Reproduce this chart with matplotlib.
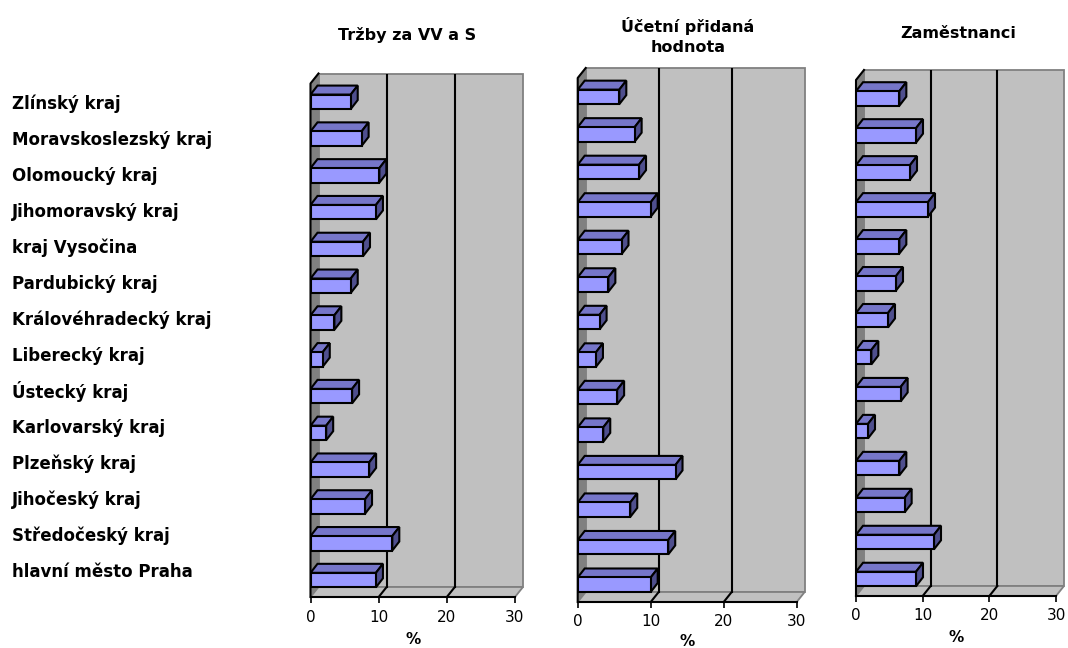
import matplotlib
matplotlib.use("Agg")
import matplotlib.pyplot as plt
from matplotlib.patches import Polygon, Rectangle

plt.rcParams['font.family'] = ['DejaVu Sans']

# regions, listed top to bottom as in the chart
regions = ["Zlínský kraj", "Moravskoslezský kraj", "Olomoucký kraj",
           "Jihomoravský kraj", "kraj Vysočina", "Pardubický kraj",
           "Královéhradecký kraj", "Liberecký kraj", "Ústecký kraj",
           "Karlovarský kraj", "Plzeňský kraj", "Jihočeský kraj",
           "Středočeský kraj", "hlavní město Praha"]

# shares in %
trzby = [5.9, 7.5, 10.1, 9.6, 7.7, 5.9, 3.5, 1.8, 6.1, 2.3, 8.6, 8.0, 12.0, 9.6]
hodnota = [5.7, 7.8, 8.4, 10.0, 6.0, 4.2, 3.0, 2.5, 5.4, 3.5, 13.4, 7.2, 12.4, 10.0]
zamestnanci = [6.5, 9.0, 8.1, 10.8, 6.5, 6.0, 4.8, 2.3, 6.7, 1.8, 6.5, 7.3, 11.7, 9.0]

titles = ["Tržby za VV a S", "Účetní přidaná\nhodnota", "Zaměstnanci"]
xticks = [0, 10, 20, 30]
XMAX = 30

W, H = 1068, 648
# panel boxes in pixels: left (value 0), right (back wall), top, bottom (front floor)
PANELS = [(310.5, 523.0, 73.5, 597.0),
          (577.7, 804.7, 68.0, 602.0),
          (856.0, 1064.0, 70.0, 596.0)]
TITLE_POS = [(407, 35), (688, 36), (958, 33)]
XLAB_Y = [639, 642, 638]
LO, HI = 0.46, 0.77          # category-space margins below / above
WALL_DX, WALL_DY = 8, 10     # px depth of walls
BAR_DX, BAR_DY = 7, 9        # px depth of bars
BAR_H = 14.5                 # px height of bar front face

FRONT = "#9999ff"
TOP = "#7676c9"
SIDE = "#4f4f8e"

fig = plt.figure(figsize=(W / 100, H / 100), dpi=100)
n = len(regions)


def panel(box, values, title, tpos, xlab_y):
    left, right, top, bottom = box
    ax = fig.add_axes([left / W, 1 - bottom / H, (right - left) / W, (bottom - top) / H])
    s = (right - left - WALL_DX) / XMAX
    pitch = (bottom - top) / (n - 1 + LO + HI)
    ddx, ddy = WALL_DX / s, WALL_DY / pitch
    bdx, bdy = BAR_DX / s, BAR_DY / pitch
    h = BAR_H / pitch
    y0, y1 = -LO, n - 1 + HI
    ax.set_xlim(0, XMAX + ddx)
    ax.set_ylim(y0, y1)

    # back wall, side wall, floor
    ax.add_patch(Rectangle((ddx, y0 + ddy), XMAX, y1 - y0 - ddy, facecolor="#c0c0c0",
                           edgecolor="#808080", lw=1.3, zorder=1, clip_on=False))
    ax.add_patch(Polygon([(0, y0), (ddx, y0 + ddy), (ddx, y1), (0, y1 - ddy)],
                         facecolor="#808080", edgecolor="#808080", lw=0.8, zorder=1, clip_on=False))
    ax.add_patch(Polygon([(0, y0), (XMAX, y0), (XMAX + ddx, y0 + ddy), (ddx, y0 + ddy)],
                         facecolor="#c0c0c0", edgecolor="#808080", lw=1.3, zorder=1, clip_on=False))
    for t in xticks[1:-1]:
        ax.plot([t + ddx, t + ddx], [y0 + ddy, y1], color="black", lw=1.5, zorder=2)
        ax.plot([t, t + ddx], [y0, y0 + ddy], color="black", lw=1.5, zorder=2, clip_on=False)
    ax.plot([0, XMAX], [y0, y0], color="black", lw=1.5, zorder=3, clip_on=False)
    ax.plot([0, 0, ddx], [y0, y1 - ddy, y1], color="black", lw=1.5, zorder=3, clip_on=False)

    # bars
    ypos = [n - 1 - k for k in range(n)]
    ax.barh(ypos, values, height=h, color=FRONT, edgecolor="black", lw=1.5, zorder=5)
    for y, v in zip(ypos, values):
        yt, yb = y + h / 2, y - h / 2
        ax.add_patch(Polygon([(0, yt), (v, yt), (v + bdx, yt + bdy), (bdx, yt + bdy)],
                             facecolor=TOP, edgecolor="black", lw=1.5, zorder=4))
        ax.add_patch(Polygon([(v, yb), (v + bdx, yb + bdy), (v + bdx, yt + bdy), (v, yt)],
                             facecolor=SIDE, edgecolor="black", lw=1.5, zorder=4))

    ax.set_xticks(xticks)
    ax.set_xticklabels([str(t) for t in xticks], fontsize=11)
    ax.tick_params(axis="x", direction="out", length=4, width=1.2, pad=5)
    ax.set_yticks([])
    for sp in ax.spines.values():
        sp.set_visible(False)
    ax.text(XMAX / 2, -(xlab_y - bottom) / (bottom - top), "%",
            transform=ax.get_xaxis_transform(), ha="center", va="center",
            fontsize=11, fontweight="bold")
    fig.text(tpos[0] / W, 1 - tpos[1] / H, title, ha="center", va="center",
             fontsize=11.5, fontweight="bold", linespacing=1.4)
    return ax


for box, vals, ttl, tp, xl in zip(PANELS, [trzby, hodnota, zamestnanci], titles, TITLE_POS, XLAB_Y):
    panel(box, vals, ttl, tp, xl)

for k, name in enumerate(regions):
    fig.text(12 / W, 1 - (104 + k * 36) / H, name, ha="left", va="center",
             fontsize=12, fontweight="bold")

fig.savefig("out.png", dpi=100)
